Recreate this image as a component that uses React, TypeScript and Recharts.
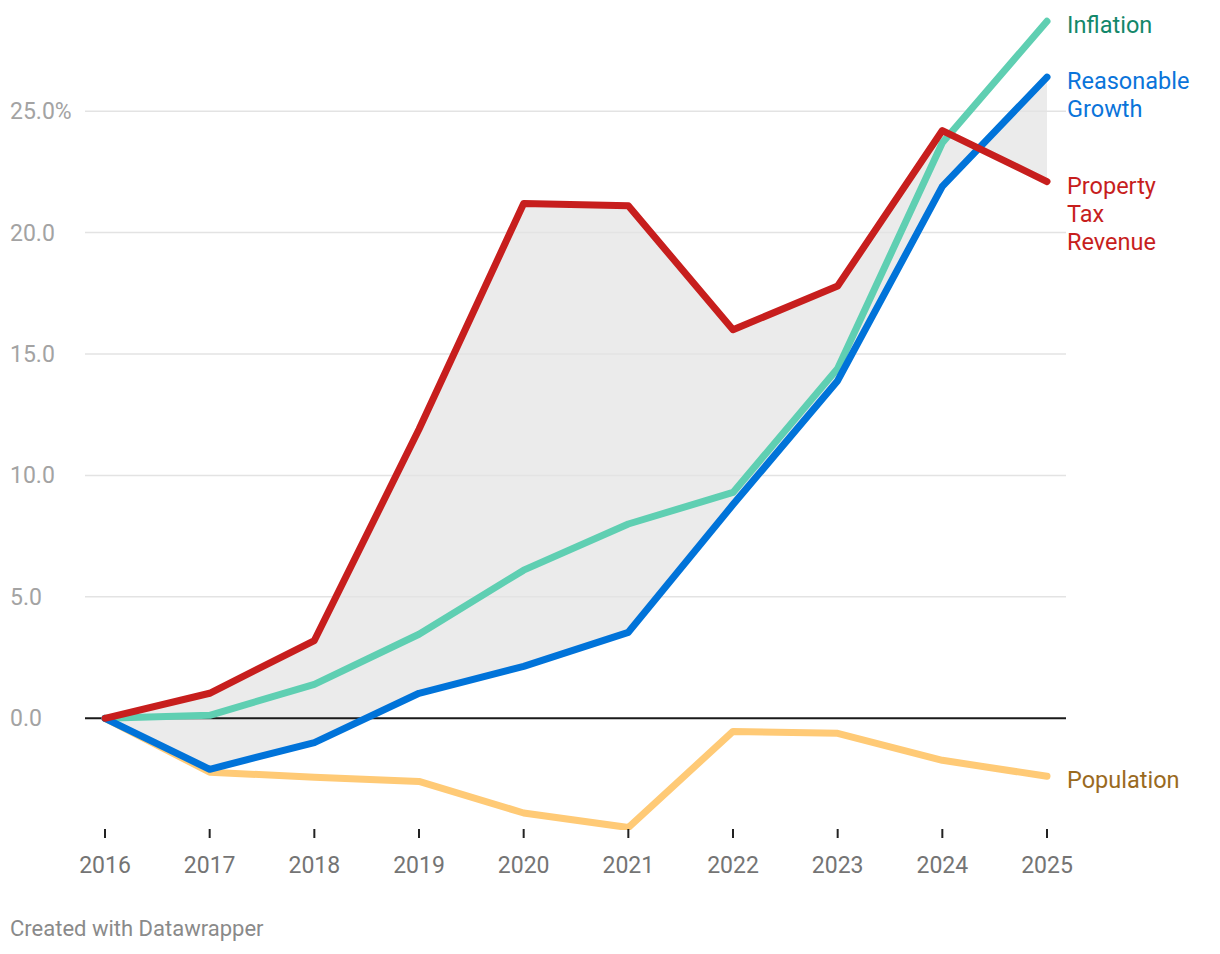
import React from 'react';
import { ComposedChart, Line, Area, XAxis, YAxis, ReferenceLine } from 'recharts';

const years = [2016, 2017, 2018, 2019, 2020, 2021, 2022, 2023, 2024, 2025];
const propertyTax = [0, 1.03, 3.2, 11.9, 21.2, 21.1, 16.0, 17.8, 24.2, 22.1];
const inflation = [0, 0.12, 1.4, 3.46, 6.1, 8.0, 9.3, 14.4, 23.7, 28.7];
const reasonableGrowth = [0, -2.1, -1.0, 1.03, 2.14, 3.54, 8.8, 13.9, 21.9, 26.4];
const population = [0, -2.22, -2.43, -2.6, -3.9, -4.5, -0.54, -0.62, -1.73, -2.39];
const yTicks = [0, 5, 10, 15, 20, 25];

const data = years.map((year, i) => ({
    year,
    propertyTax: propertyTax[i],
    inflation: inflation[i],
    reasonableGrowth: reasonableGrowth[i],
    population: population[i],
    band: [reasonableGrowth[i], propertyTax[i]],
}));

const FONT = 'Roboto, sans-serif';

const YTick = (props: any) => {
    const { y, payload } = props;
    const label = payload.value === 25 ? '25.0%' : payload.value.toFixed(1);
    return (
        <text x={10} y={y + 8} fill="#a3a3a3" fontSize={23} fontFamily={FONT} textAnchor="start">
            {label}
        </text>
    );
};

const XTick = (props: any) => {
    const { x, payload } = props;
    return (
        <g>
            <line x1={x} x2={x} y1={829} y2={838} stroke="#222" strokeWidth={2} />
            <text x={x} y={873} fill="#747474" fontSize={23} fontFamily={FONT} textAnchor="middle">
                {payload.value}
            </text>
        </g>
    );
};

const endLabel = (lines: string[], color: string) => (props: any) => {
    const { x, y, index } = props;
    if (index !== years.length - 1) return null;
    return (
        <text x={x + 20} y={y + 12} fill={color} fontSize={23.5} fontFamily={FONT} textAnchor="start">
            {lines.map((l, i) => (
                <tspan key={i} x={x + 20} dy={i === 0 ? 0 : 28}>{l}</tspan>
            ))}
        </text>
    );
};

const App: React.FC = () => {
    return (
        <div style={{ position: 'absolute', left: 0, top: 0, width: 1220, height: 954, background: '#fff' }}>
            <ComposedChart
                width={1220}
                height={954}
                data={data}
                margin={{ top: 14, right: 154, bottom: 64, left: 0 }}
            >
                <XAxis
                    type="number"
                    dataKey="year"
                    domain={[2016, 2025]}
                    ticks={years}
                    padding={{ left: 20, right: 19 }}
                    axisLine={false}
                    tickLine={false}
                    tick={<XTick />}
                    height={60}
                />
                <YAxis
                    type="number"
                    domain={[-4.6, 29]}
                    ticks={yTicks}
                    axisLine={false}
                    tickLine={false}
                    tick={<YTick />}
                    width={85}
                    allowDataOverflow
                />
                {yTicks.filter((t) => t !== 0).map((t) => (
                    <ReferenceLine key={t} y={t} stroke="#e3e3e3" strokeWidth={1.5} />
                ))}
                <Area
                    dataKey="band"
                    fill="#ebebeb"
                    fillOpacity={1}
                    stroke="none"
                    isAnimationActive={false}
                />
                <ReferenceLine y={0} stroke="#1a1a1a" strokeWidth={2} />
                <Line
                    dataKey="population"
                    stroke="#ffca76"
                    strokeWidth={7}
                    dot={false}
                    strokeLinecap="round"
                    strokeLinejoin="round"
                    isAnimationActive={false}
                    label={endLabel(['Population'], '#9a6a1e')}
                />
                <Line
                    dataKey="inflation"
                    stroke="#5fcfb2"
                    strokeWidth={7}
                    dot={false}
                    strokeLinecap="round"
                    strokeLinejoin="round"
                    isAnimationActive={false}
                    label={endLabel(['Inflation'], '#13876a')}
                />
                <Line
                    dataKey="reasonableGrowth"
                    stroke="#0073d9"
                    strokeWidth={7}
                    dot={false}
                    strokeLinecap="round"
                    strokeLinejoin="round"
                    isAnimationActive={false}
                    label={endLabel(['Reasonable', 'Growth'], '#0a74da')}
                />
                <Line
                    dataKey="propertyTax"
                    stroke="#c71e1d"
                    strokeWidth={7}
                    dot={false}
                    strokeLinecap="round"
                    strokeLinejoin="round"
                    isAnimationActive={false}
                    label={endLabel(['Property', 'Tax', 'Revenue'], '#c71e1d')}
                />
            </ComposedChart>
            <div style={{ position: 'absolute', left: 10, top: 916, fontFamily: FONT, fontSize: 22, color: '#8a8a8a' }}>
                Created with Datawrapper
            </div>
        </div>
    );
};

export default App;
